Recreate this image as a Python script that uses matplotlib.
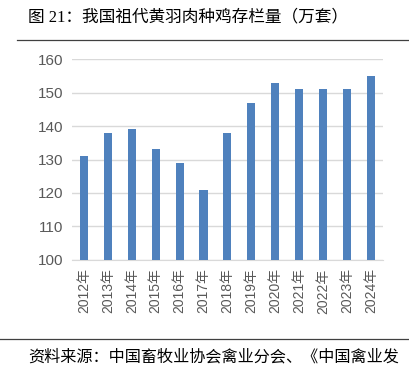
import matplotlib.pyplot as plt
import numpy as np

years = ['2012年', '2013年', '2014年', '2015年', '2016年', '2017年', '2018年',
         '2019年', '2020年', '2021年', '2022年', '2023年', '2024年']
stock = [131, 138, 139, 133, 129, 121, 138, 147, 153, 151, 151, 151, 155]
yticks = [100, 110, 120, 130, 140, 150, 160]

cjk = ['Noto Sans CJK SC', 'DejaVu Sans']
latin = ['Liberation Sans', 'Noto Sans CJK SC']
serif = ['Liberation Serif', 'Noto Sans CJK SC']

fig = plt.figure(figsize=(4.09, 3.74), dpi=100)
ax = fig.add_axes([0.176, 0.305, 0.760, 0.537])

x = np.arange(len(years))
ax.bar(x, stock, width=0.34, color='#4f81bd', zorder=3)

ax.set_xlim(-0.5, len(years) - 0.5)
ax.set_ylim(100, 160)
ax.set_yticks(yticks)
ax.set_yticklabels([str(v) for v in yticks], family=latin, fontsize=11, color='#595959')
ax.set_xticks(x)
ax.set_xticklabels(years, rotation=90, family=latin, fontsize=10, color='#595959')
ax.tick_params(length=0, pad=6)
ax.grid(axis='y', color='#d9d9d9', linewidth=1, zorder=0)
for s in ['top', 'right', 'left']:
    ax.spines[s].set_visible(False)
ax.spines['bottom'].set_color('#d9d9d9')

# 标题和来源
fig.text(28 / 409, 1 - 17 / 374, '图 21：我国祖代黄羽肉种鸡存栏量（万套）',
         family=serif, fontsize=12, va='center', ha='left', color='black')
fig.add_artist(plt.Line2D([17 / 409, 1], [1 - 40 / 374] * 2, color='#404040', lw=0.9))
fig.add_artist(plt.Line2D([0, 1], [1 - 339 / 374] * 2, color='#404040', lw=0.9))
fig.text(28 / 409, 1 - 357 / 374, '资料来源：中国畜牧业协会禽业分会、《中国禽业发',
         family=cjk, fontsize=11.6, va='center', ha='left', color='black')

fig.savefig('out.png', dpi=100)
